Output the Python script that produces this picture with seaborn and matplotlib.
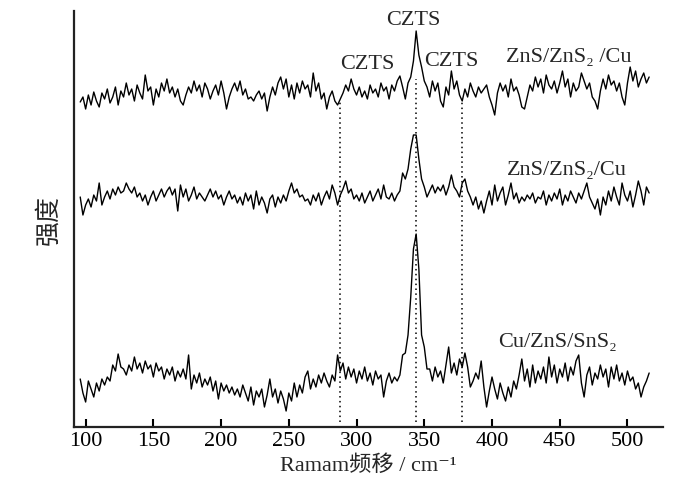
import numpy as np
import pandas as pd
import matplotlib
matplotlib.use("Agg")
import matplotlib.pyplot as plt
import seaborn as sns

# Raman shift grid (cm-1) and intensities (arbitrary units)
shift = np.arange(96, 517, 2)

top_znS_cu = [
    325, 330, 318, 332, 322, 335, 326, 320, 334, 328, 338, 324, 330, 340, 322, 336, 330, 344, 332, 338,
    326, 342, 334, 328, 352, 336, 340, 322, 338, 330, 344, 336, 348, 334, 340, 330, 338, 326, 322, 332,
    340, 334, 346, 336, 342, 330, 344, 338, 328, 336, 342, 332, 346, 334, 318, 330, 338, 344, 336, 346,
    332, 338, 328, 330, 326, 332, 336, 328, 334, 316, 330, 340, 332, 344, 350, 338, 348, 330, 342, 328,
    344, 334, 346, 338, 342, 330, 354, 336, 344, 328, 334, 318, 330, 336, 326, 322, 328, 334, 342, 336,
    348, 338, 332, 340, 330, 336, 328, 342, 334, 338, 330, 344, 336, 340, 328, 342, 336, 346, 351, 340,
    328, 344, 350, 366, 396, 372, 360, 346, 340, 330, 346, 336, 344, 326, 320, 340, 332, 356, 338, 346,
    332, 326, 338, 330, 344, 336, 330, 340, 334, 338, 342, 330, 322, 312, 334, 344, 336, 342, 330, 348,
    336, 340, 332, 320, 318, 330, 342, 336, 350, 340, 348, 334, 352, 342, 338, 346, 334, 344, 356, 340,
    348, 330, 344, 336, 340, 354, 346, 338, 344, 330, 326, 318, 336, 348, 338, 352, 342, 346, 336, 344,
    330, 322, 344, 360, 346, 356, 340, 348, 354, 344, 350,
]

mid_znS_cu = [
    230, 212, 222, 228, 220, 232, 226, 244, 222, 230, 236, 228, 238, 232, 240, 234, 236, 244, 238, 234,
    240, 230, 234, 226, 232, 222, 230, 236, 226, 232, 238, 230, 236, 240, 232, 238, 216, 242, 230, 238,
    226, 232, 240, 228, 234, 230, 226, 232, 238, 230, 236, 228, 232, 222, 230, 236, 228, 232, 224, 230,
    222, 234, 226, 232, 218, 236, 222, 230, 224, 214, 228, 232, 220, 230, 224, 232, 226, 236, 244, 234,
    238, 230, 232, 226, 228, 222, 232, 226, 234, 222, 230, 236, 228, 242, 234, 222, 232, 238, 246, 234,
    238, 228, 232, 226, 234, 224, 230, 236, 226, 232, 238, 228, 242, 230, 228, 234, 226, 232, 236, 254,
    248, 258, 278, 292, 292, 268, 248, 240, 230, 236, 242, 234, 240, 236, 242, 232, 240, 252, 240, 236,
    230, 244, 248, 236, 230, 222, 230, 218, 226, 214, 226, 236, 222, 242, 226, 234, 240, 222, 232, 244,
    228, 234, 224, 230, 226, 232, 228, 234, 224, 230, 228, 236, 222, 232, 226, 234, 228, 238, 222, 232,
    226, 236, 230, 224, 234, 228, 236, 244, 230, 224, 218, 228, 212, 230, 222, 236, 226, 240, 230, 222,
    244, 232, 226, 236, 220, 232, 246, 236, 222, 240, 234,
]

bot_cu_sns = [
    48, 34, 25, 46, 38, 30, 44, 36, 48, 42, 50, 46, 62, 56, 73, 60, 58, 52, 62, 56,
    70, 58, 64, 54, 66, 58, 62, 50, 64, 56, 60, 48, 58, 52, 60, 46, 56, 50, 58, 48,
    72, 38, 52, 44, 54, 40, 48, 42, 50, 36, 46, 28, 44, 36, 42, 34, 40, 32, 38, 30,
    42, 34, 26, 40, 22, 36, 30, 38, 20, 32, 48, 30, 38, 24, 36, 28, 16, 34, 26, 44,
    30, 42, 34, 50, 56, 38, 48, 40, 52, 44, 54, 46, 40, 52, 46, 72, 56, 64, 48, 60,
    50, 58, 44, 56, 48, 60, 46, 54, 42, 56, 48, 52, 30, 46, 54, 44, 50, 46, 52, 72,
    74, 92, 130, 178, 193, 158, 92, 80, 58, 58, 46, 60, 50, 56, 44, 62, 80, 54, 64, 52,
    68, 60, 74, 60, 40, 46, 54, 48, 66, 40, 20, 36, 50, 38, 28, 44, 34, 26, 40, 30,
    46, 38, 52, 68, 46, 58, 40, 62, 44, 56, 48, 60, 44, 70, 50, 62, 44, 58, 50, 64,
    46, 60, 52, 66, 72, 44, 30, 52, 60, 42, 54, 48, 62, 50, 58, 40, 60, 48, 62, 46,
    54, 42, 56, 46, 50, 38, 44, 30, 40, 46, 54,
]

sample_labels = ["ZnS/ZnS\u2082 /Cu", "ZnS/ZnS\u2082/Cu", "Cu/ZnS/SnS\u2082"]
peak_lines = [288, 344, 378]
guide_tops = [326, 348, 328]

sns.set_theme(style="ticks")
plt.rcParams["font.family"] = ["Liberation Serif", "Noto Sans CJK SC", "DejaVu Sans"]

fig = plt.figure(figsize=(7, 5.02), dpi=100)
ax = fig.add_axes([0.1057, 0.1474, 0.841, 0.8287])

for ys in [top_znS_cu, mid_znS_cu, bot_cu_sns]:
    df = pd.DataFrame({"shift": shift, "intensity": ys})
    sns.lineplot(data=df, x="shift", y="intensity", color="black", linewidth=1.0,
                 estimator=None, sort=False, ax=ax)

# dotted guides at the CZTS peaks
for xp, yt in zip(peak_lines, guide_tops):
    ax.vlines(xp, 5, yt, colors="black", linestyles=(0, (1, 2.2)), linewidth=1.1)

fs = 16
ax.text(342, 407, "CZTS", ha="center", va="center", fontsize=fs)
ax.text(308, 363, "CZTS", ha="center", va="center", fontsize=fs)
ax.text(370, 366, "CZTS", ha="center", va="center", fontsize=fs)
ax.text(457, 370, sample_labels[0], ha="center", va="center", fontsize=fs)
ax.text(455, 258, sample_labels[1], ha="center", va="center", fontsize=fs)
ax.text(448, 86, sample_labels[2], ha="center", va="center", fontsize=fs)

ax.set_xlim(91.4, 526)
ax.set_ylim(0, 416)
ax.set_xticks(range(100, 501, 50))
ax.set_yticks([])
ax.tick_params(axis="x", direction="in", length=6, width=1.5, pad=3, labelsize=fs, colors="black")
for s in ["top", "right"]:
    ax.spines[s].set_visible(False)
for s in ["left", "bottom"]:
    ax.spines[s].set_linewidth(1.6)
    ax.spines[s].set_color("#222222")

ax.set_xlabel("Ramam频移 / cm\u207b\u00b9", fontsize=fs, labelpad=3)
ax.set_ylabel("强度", fontsize=18, labelpad=10)

fig.savefig("out.png", dpi=100)
